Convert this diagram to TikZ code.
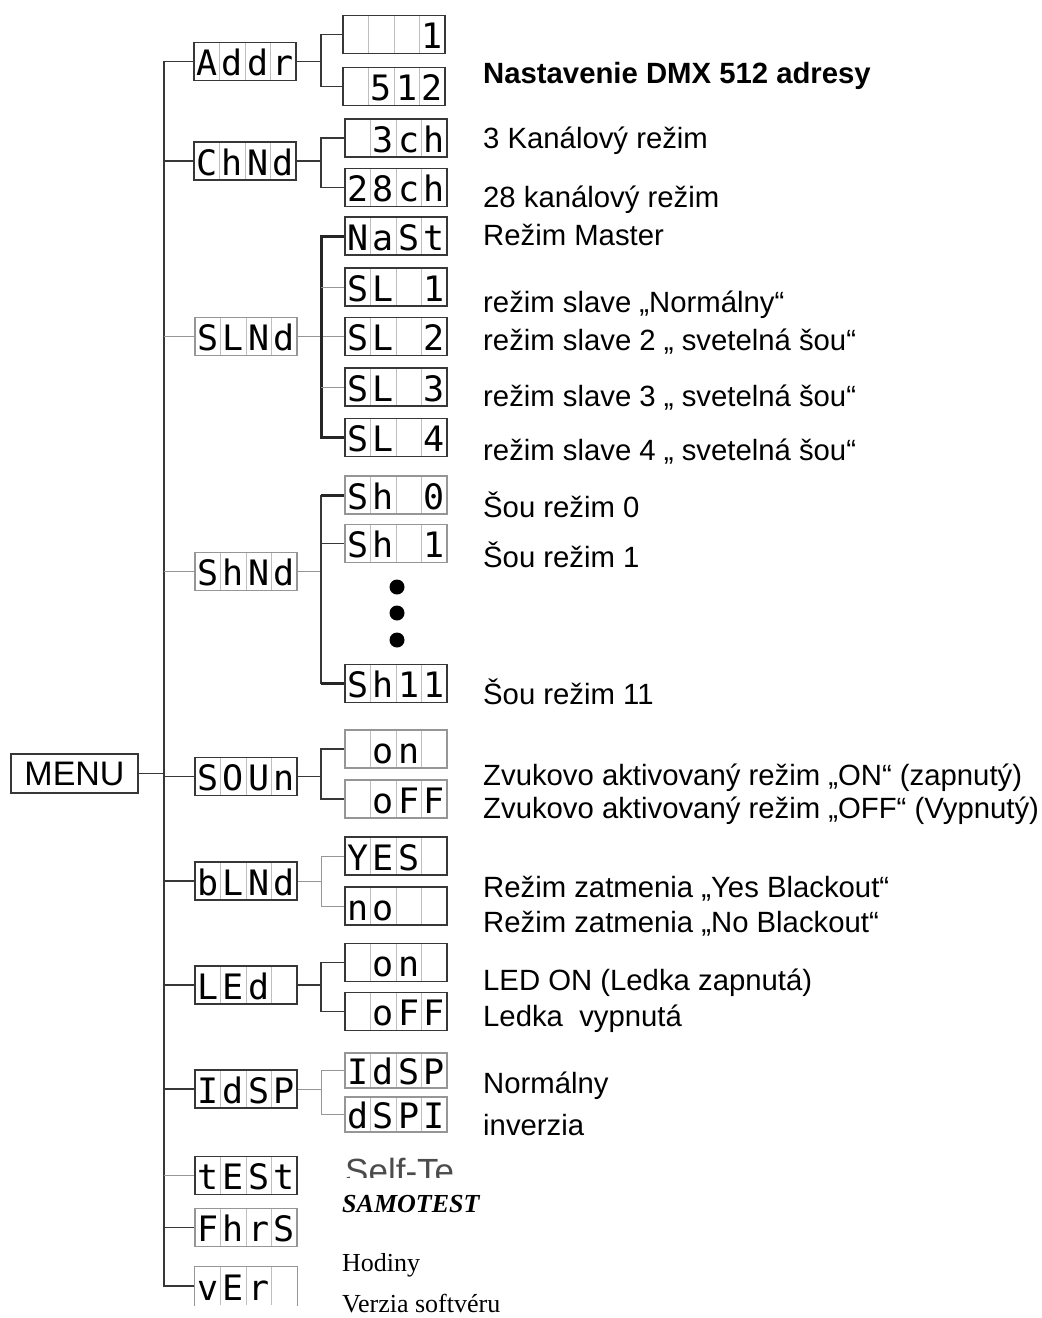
\documentclass[tikz,border=0pt]{standalone}
\usepackage{fontspec}
\setmainfont{Liberation Sans}
\newfontfamily\lcdfont{DejaVu Sans Mono}
\newfontfamily\serifnote{Liberation Serif}
\usepackage{tikz}
\usetikzlibrary{calc}
\definecolor{lcddark}{RGB}{55,55,55}
\definecolor{lcdgrid}{RGB}{190,190,190}
\definecolor{palegray}{RGB}{150,150,150}
\newcommand{\seg}[4]{\makebox[25.5pt]{#1}\makebox[25.5pt]{#2}\makebox[25.5pt]{#3}\makebox[25.5pt]{#4}}
\tikzset{
  lcd/.style={rectangle, draw=lcddark, line width=1.8pt,
    minimum width=102pt, minimum height=38pt, inner sep=0pt,
    font={\lcdfont\fontsize{35}{35}\selectfont}, text height=28pt, text depth=0pt,
    path picture={\foreach \k in {1,2,3}
      \draw[lcdgrid, line width=0.8pt]
        ($(path picture bounding box.north west)!\k/4!(path picture bounding box.north east)$) --
        ($(path picture bounding box.south west)!\k/4!(path picture bounding box.south east)$);}},
  lcdpale/.style={lcd, draw=palegray, line width=1.2pt},
  menubox/.style={rectangle, draw=lcddark, line width=2pt,
    minimum width=127pt, minimum height=39pt, inner sep=0pt,
    font=\fontsize{34}{34}\selectfont},
  line/.style={draw=lcddark, line width=1.8pt},
  heavy/.style={draw=black!85, line width=3pt},
  faint/.style={draw=palegray, line width=1pt},
  note/.style={anchor=base west, inner sep=0pt, font=\fontsize{29.3}{34}\selectfont},
  serifnote/.style={anchor=base west, inner sep=0pt, font=\serifnote\fontsize{26}{30}\selectfont}
}
\begin{document}
\begin{tikzpicture}[x=1pt, y=-1pt]
  \useasboundingbox (0,0) rectangle (1042,1318);
  \coordinate (trunk) at (164,0);
  \coordinate (branch) at (321,0);

  % Menu
  \node[menubox] (menu) at (74.5,773.5) {MENU};

  % First level
  \node[lcd] (addr) at (245,61.5) {\seg{A}{d}{d}{r}};
  \node[lcd] (chmd) at (245,161) {\seg{C}{h}{N}{d}};
  \node[lcdpale] (slmd) at (246,336.5) {\seg{S}{L}{N}{d}};
  \node[lcdpale] (shmd) at (246,571.5) {\seg{S}{h}{N}{d}};
  \node[lcd] (soun) at (246,776.5) {\seg{S}{O}{U}{n}};
  \node[lcd] (blmd) at (246,881) {\seg{b}{L}{N}{d}};
  \node[lcd] (led) at (246,985) {\seg{L}{E}{d}{}};
  \node[lcd] (idsp) at (246,1089) {\seg{I}{d}{S}{P}};
  \node[lcd] (test) at (246,1175.5) {\seg{t}{E}{S}{t}};
  \node[lcdpale] (fhrs) at (246,1227.5) {\seg{F}{h}{r}{S}};
  \node[lcdpale, draw=none] (ver) at (246,1286) {\seg{v}{E}{r}{}};
  \draw[palegray, line width=1.2pt] (ver.south west) -- (ver.north west) -- (ver.north east) -- (ver.south east);

  % Second level
  \node[lcd] (a1) at (394,34.5) {\seg{}{}{}{1}};
  \node[lcd] (a512) at (394,86.5) {\seg{}{5}{1}{2}};
  \node[lcd] (ch3) at (396,138) {\seg{}{3}{c}{h}};
  \node[lcd] (ch28) at (396,187.5) {\seg{2}{8}{c}{h}};
  \node[lcd] (mast) at (396,236) {\seg{N}{a}{S}{t}};
  \node[lcd] (sl1) at (396,287) {\seg{S}{L}{}{1}};
  \node[lcd] (sl2) at (396,336.5) {\seg{S}{L}{}{2}};
  \node[lcd] (sl3) at (396,387) {\seg{S}{L}{}{3}};
  \node[lcd] (sl4) at (396,437.5) {\seg{S}{L}{}{4}};
  \node[lcdpale] (sh0) at (396,495) {\seg{S}{h}{}{0}};
  \node[lcdpale] (sh1) at (396,543.5) {\seg{S}{h}{}{1}};
  \node[lcd] (sh11) at (396,683.5) {\seg{S}{h}{1}{1}};
  \node[lcdpale] (son) at (396,749) {\seg{}{o}{n}{}};
  \node[lcdpale] (soff) at (396,799) {\seg{}{o}{F}{F}};
  \node[lcd] (yes) at (396,856) {\seg{Y}{E}{S}{}};
  \node[lcd] (no) at (396,906) {\seg{n}{o}{}{}};
  \node[lcd] (lon) at (396,962.5) {\seg{}{o}{n}{}};
  \node[lcd] (loff) at (396,1011.5) {\seg{}{o}{F}{F}};
  \node[lcdpale, minimum height=35pt] (dsp1) at (396,1070.5) {\seg{I}{d}{S}{P}};
  \node[lcdpale, minimum height=35pt] (dsp2) at (396,1114.5) {\seg{d}{S}{P}{I}};
  \foreach \y in {587,613,640}
    \fill (397,\y) circle (7.5pt);

  % Trunk
  \draw[line] (addr.west) -- (addr.west -| trunk) -- (ver.west -| trunk) -- (ver.west);
  \draw[line] (menu.east) -- (menu.east -| trunk);
  \draw[line] (chmd.west -| trunk) -- (chmd.west);
  \draw[faint] (slmd.west -| trunk) -- (slmd.west);
  \draw[faint] (shmd.west -| trunk) -- (shmd.west);
  \draw[line] (soun.west -| trunk) -- (soun.west);
  \draw[line] (blmd.west -| trunk) -- (blmd.west);
  \draw[line] (led.west -| trunk) -- (led.west);
  \draw[line] (idsp.west -| trunk) -- (idsp.west);
  \draw[faint] (test.west -| trunk) -- (test.west);
  \draw[line] (fhrs.west -| trunk) -- (fhrs.west);

  % Branches
  \draw[line] (addr.east) -- (addr.east -| branch);
  \draw[line] (a1.west) -- (a1.west -| branch) -- (a512.west -| branch) -- (a512.west);
  \draw[line] (chmd.east) -- (chmd.east -| branch);
  \draw[line] (ch3.west) -- (ch3.west -| branch) -- (ch28.west -| branch) -- (ch28.west);
  \draw[faint] (slmd.east) -- (sl2.west);
  \draw[heavy] (mast.west) -- (mast.west -| branch) -- (sl4.west -| branch) -- (sl4.west);
  \draw[faint] (sl1.west -| branch) -- (sl1.west);
  \draw[faint] (sl3.west -| branch) -- (sl3.west);
  \draw[faint] (shmd.east) -- (shmd.east -| branch);
  \draw[line] (sh0.west -| branch) -- (sh11.west -| branch);
  \draw[heavy] (sh0.west -| branch) -- (sh0.west);
  \draw[line] (sh1.west -| branch) -- (sh1.west);
  \draw[heavy] (sh11.west -| branch) -- (sh11.west);
  \draw[line] (soun.east) -- (soun.east -| branch);
  \draw[line] (son.west) -- (son.west -| branch) -- (soff.west -| branch) -- (soff.west);
  \draw[faint] (blmd.east) -- (blmd.east -| branch);
  \draw[faint] (yes.west) -- (yes.west -| branch) -- (no.west -| branch) -- (no.west);
  \draw[line] (led.east) -- (led.east -| branch);
  \draw[line] (lon.west) -- (lon.west -| branch) -- (loff.west -| branch) -- (loff.west);
  \draw[faint] (idsp.east) -- (idsp.east -| branch);
  \draw[faint] (dsp1.west) -- (dsp1.west -| branch) -- (dsp2.west -| branch) -- (dsp2.west);

  % Notes
  \node[note] (n-addr) at (483,83) {\textbf{Nastavenie DMX 512 adresy}};
  \node[note] (n-ch3) at (483,148) {3 Kanálový režim};
  \node[note] (n-ch28) at (483,207) {28 kanálový režim};
  \node[note] (n-mast) at (483,245) {Režim Master};
  \node[note] (n-sl1) at (483,312) {režim slave „Normálny“};
  \node[note] (n-sl2) at (483,350) {režim slave 2 „ svetelná šou“};
  \node[note] (n-sl3) at (483,406) {režim slave 3 „ svetelná šou“};
  \node[note] (n-sl4) at (483,460) {režim slave 4 „ svetelná šou“};
  \node[note] (n-sh0) at (483,517) {Šou režim 0};
  \node[note] (n-sh1) at (483,567) {Šou režim 1};
  \node[note] (n-sh11) at (483,704) {Šou režim 11};
  \node[note] (n-son) at (483,785) {Zvukovo aktivovaný režim „ON“ (zapnutý)};
  \node[note] (n-soff) at (483,818) {Zvukovo aktivovaný režim „OFF“ (Vypnutý)};
  \node[note] (n-yes) at (483,897) {Režim zatmenia „Yes Blackout“};
  \node[note] (n-no) at (483,932) {Režim zatmenia „No Blackout“};
  \node[note] (n-lon) at (483,990) {LED ON (Ledka zapnutá)};
  \node[note] (n-loff) at (483,1026) {Ledka\ \ vypnutá};
  \node[note] (n-dsp1) at (483,1093) {Normálny};
  \node[note] (n-dsp2) at (483,1135) {inverzia};
  \begin{scope}
    \clip (330,1140) rectangle (520,1177);
    \node[note, text=black!70, font=\fontsize{35}{40}\selectfont] (n-self) at (345,1183) {Self-Te};
  \end{scope}
  \node[serifnote, font=\serifnote\fontsize{26}{30}\selectfont\bfseries\itshape] (n-test) at (342,1212) {SAMOTEST};
  \node[serifnote] (n-fhrs) at (342,1271) {Hodiny};
  \node[serifnote] (n-ver) at (342,1312) {Verzia softvéru};
\end{tikzpicture}
\end{document}
